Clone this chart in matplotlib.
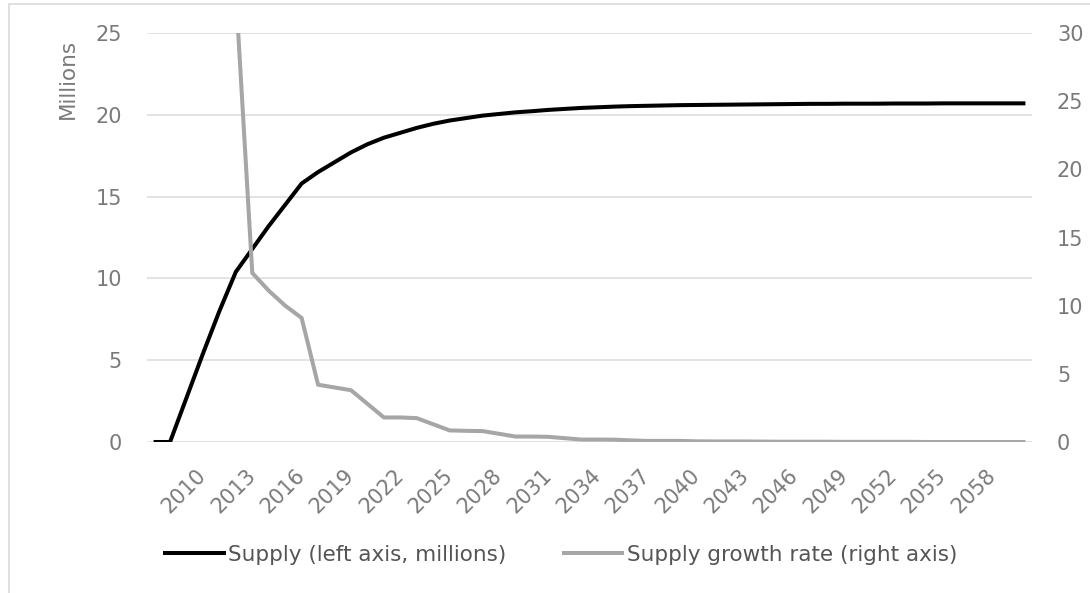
import numpy as np
import matplotlib.pyplot as plt
from matplotlib.patches import Rectangle

plt.rcParams['font.family'] = ['DejaVu Sans']

# data
years = list(range(2007, 2061))
supply = [0, 0, 2.7, 5.4, 8.0, 10.4, 11.8, 13.2, 14.5, 15.8,
          16.5, 17.1, 17.7, 18.2, 18.6, 18.9, 19.2, 19.45, 19.65, 19.8,
          19.95, 20.05, 20.15, 20.22, 20.3, 20.36, 20.42, 20.46, 20.5, 20.53,
          20.55, 20.57, 20.59, 20.6, 20.61, 20.62, 20.63, 20.64, 20.65, 20.66,
          20.67, 20.67, 20.68, 20.68, 20.68, 20.69, 20.69, 20.69, 20.7, 20.7,
          20.7, 20.7, 20.7, 20.7]
growth_years = list(range(2012, 2061))
growth = [33, 12.4, 11.1, 10.0, 9.1, 4.2, 4.0, 3.8, 2.8, 1.8,
          1.8, 1.75, 1.3, 0.85, 0.82, 0.8, 0.6, 0.4, 0.4, 0.38,
          0.28, 0.18, 0.18, 0.17, 0.12, 0.08, 0.08, 0.08, 0.05, 0.04,
          0.04, 0.04, 0.03, 0.02, 0.02, 0.02, 0.02, 0.01, 0.01, 0.01,
          0.01, 0.01, 0.0, 0.0, 0.0, 0.0, 0.0, 0.0, 0.0]
xtick_years = list(range(2010, 2059, 3))

label_color = '#7a7a7a'
grid_color = '#dedede'

fig = plt.figure(figsize=(10.9, 5.93), dpi=100)
ax = fig.add_axes([147/1090, 1-442/593, (1032-147)/1090, (442-33)/593])
ax2 = ax.twinx()

l1, = ax.plot(years, supply, color='black', lw=2.9, solid_capstyle='butt',
              label='Supply (left axis, millions)')
l2, = ax2.plot(growth_years, growth, color='#a6a6a6', lw=2.9, solid_capstyle='butt',
               label='Supply growth rate (right axis)')

ax.set_xlim(2006.6, 2060.4)
ax.set_ylim(0, 25)
ax2.set_ylim(0, 30)
ax.set_yticks(range(0, 26, 5))
ax2.set_yticks(range(0, 31, 5))
ax.set_xticks(xtick_years)
ax.set_xticklabels([str(y) for y in xtick_years], rotation=45, ha='right',
                   va='center', rotation_mode='anchor')

ax.grid(axis='y', color=grid_color, lw=1.2)
ax.set_axisbelow(True)
for a in (ax, ax2):
    for s in a.spines.values():
        s.set_visible(False)
    a.tick_params(length=0, colors=label_color, labelsize=15)
ax.tick_params(axis='y', pad=18)
ax2.tick_params(axis='y', pad=18)
ax.tick_params(axis='x', pad=22)

fig.text(68/1090, 1-79/593, 'Millions', rotation=90, ha='center', va='center',
         color=label_color, fontsize=15.5)

fig.legend(handles=[l1, l2], loc='center', bbox_to_anchor=(560/1090, 1-555/593),
           ncol=2, frameon=False, fontsize=15.5, handlelength=2.9, handletextpad=0.1,
           columnspacing=2.6, labelcolor='#555555')

fig.patches.append(Rectangle((9/1090, -0.1), 1.2, 1-4/593+0.1, transform=fig.transFigure,
                             fill=False, edgecolor='#d9d9d9', lw=1.2))

plt.savefig('out.png', dpi=100)
